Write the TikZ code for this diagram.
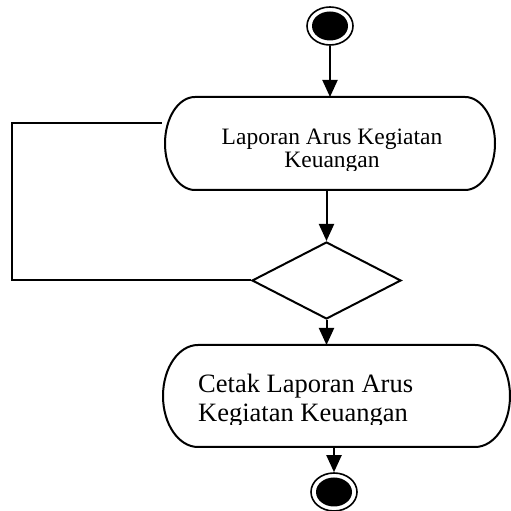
\documentclass[tikz,border=0pt]{standalone}
\usepackage{fontspec}
\setmainfont{Liberation Serif}
\usetikzlibrary{shapes.geometric,arrows.meta,calc}
\begin{document}
\begin{tikzpicture}[x=1pt,y=1pt,
  flow/.style={line width=2pt,-{Triangle[length=17pt,width=15pt]}},
  edge/.style={line width=2pt},
  outline/.style={line width=2pt},
  terminal/.style={ellipse,draw,line width=1.6pt,fill=white,
    minimum width=46pt,minimum height=38pt,inner sep=0pt},
  core/.style={fill=black},
  choice/.style={diamond,draw,line width=2pt,minimum width=149pt,
    minimum height=77pt,inner sep=0pt,aspect=1.935},
  actbox/.style={rectangle,inner sep=0pt,outer sep=0pt},
  labelA/.style={font=\fontsize{23.5}{23}\selectfont,align=center,inner sep=0pt},
  labelB/.style={font=\fontsize{26.5}{29}\selectfont,align=left,inner sep=0pt},
]
\useasboundingbox (0,0) rectangle (511,511);

% initial and final states: ring with a solid core
\node[terminal] (start) at (330,485) {};
\fill[core] (start.center) ellipse[x radius=18,y radius=14.5];
\node[terminal] (stop) at (334,19) {};
\fill[core] (stop.center) ellipse[x radius=18,y radius=14.5];

% activity frames (invisible boxes carrying the anchors)
\node[actbox,minimum width=330pt,minimum height=93pt] (act1) at (330,367.5) {};
\node[actbox,minimum width=347pt,minimum height=102pt] (act2) at (336.5,115) {};

% activity outlines with elliptic ends
\draw[outline] ($(act1.north west)+(30,0)$) -- ($(act1.north east)+(-30,0)$)
  arc[start angle=90,end angle=-90,x radius=30,y radius=46.5]
  -- ($(act1.south west)+(30,0)$)
  arc[start angle=270,end angle=90,x radius=30,y radius=46.5] -- cycle;
\draw[outline] ($(act2.north west)+(35,0)$) -- ($(act2.north east)+(-35,0)$)
  arc[start angle=90,end angle=-90,x radius=35,y radius=51]
  -- ($(act2.south west)+(35,0)$)
  arc[start angle=270,end angle=90,x radius=35,y radius=51] -- cycle;

% activity texts, cut off just below the last baseline
\begin{scope}
  \clip (170,340) rectangle (490,410);
  \node[labelA,anchor=base] (txt1) at (332,343) {Laporan Arus Kegiatan\\Keuangan};
\end{scope}
\begin{scope}
  \clip (170,86) rectangle (505,160);
  \node[labelB,anchor=base west] (txt2) at (198,89) {Cetak Laporan Arus\\Kegiatan Keuangan};
\end{scope}

% decision
\node[choice] (dec) at (326.5,230.5) {};

% loop back to the first activity
\coordinate (back) at (12,388);
\coordinate (backend) at (162,388);
\draw[edge] (dec.west) -| (back) -- (backend);

% control flow
\draw[flow] (start) -- (start |- act1.north);
\draw[flow] (dec.north |- act1.south) -- (dec.north);
\draw[flow] (dec.south) -- (dec.south |- act2.north);
\draw[flow] (stop.north |- act2.south) -- (stop);
\end{tikzpicture}
\end{document}
